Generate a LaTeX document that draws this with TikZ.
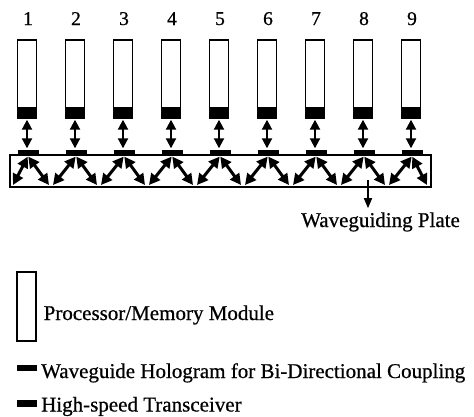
\documentclass[tikz,border=0pt]{standalone}
\usepackage{fontspec}
\setmainfont[FakeBold=0.6]{Liberation Serif}
\usetikzlibrary{arrows.meta}
\begin{document}
\begin{tikzpicture}[x=1pt,y=-1pt,
  module/.style={draw, line width=1.6pt, minimum width=19pt, minimum height=78pt, inner sep=0pt},
  trans/.style={fill=black, minimum width=20pt, minimum height=11pt, inner sep=0pt},
  holo/.style={fill=black, minimum width=21pt, minimum height=6pt, inner sep=0pt},
  biarrow/.style={line width=3pt, {Triangle[length=11pt,width=11pt]}-{Triangle[length=11pt,width=11pt]}},
  vbiarrow/.style={line width=2pt, {Triangle[length=10pt,width=10pt]}-{Triangle[length=10pt,width=10pt]}},
  num/.style={font=\fontsize{19.5}{22}\selectfont, inner sep=0pt, anchor=base},
  lab/.style={font=\fontsize{21}{24}\selectfont, inner sep=0pt, anchor=base west}]
\useasboundingbox (0,0) rectangle (474,416);
% waveguiding plate
\node[draw, line width=1.6pt, minimum width=421pt, minimum height=32pt, inner sep=0pt] (plate) at (220.5,171) {};
\foreach \i in {1,...,9}{
  \pgfmathsetmacro\cx{27+48*(\i-1)}
  \node[module] (m\i) at (\cx,79) {};
  \node[trans] (t\i) at (\cx,112.5) {};
  \node[holo] (h\i) at (\cx+1,153) {};
  \node[num] (n\i) at (\cx+1,25) {\i};
  \draw[vbiarrow, shorten <=1.5pt, shorten >=1.5pt] (t\i.south) -- (h\i.north -| t\i.south);
  \ifnum\i=1
    \coordinate (l\i) at (13,185);
  \else
    \coordinate (l\i) at (\cx-22,185);
  \fi
  \ifnum\i=9
    \coordinate (r\i) at (427,185);
  \else
    \coordinate (r\i) at (\cx+22,185);
  \fi
  \draw[biarrow, shorten <=0.5pt] (h\i.south) -- (l\i);
  \draw[biarrow, shorten <=0.5pt] (h\i.south) -- (r\i);
}
% label of plate
\node[lab] (wpl) at (301,227) {Waveguiding Plate};
\coordinate (wp) at (368,180);
\draw[line width=1.6pt, -{Triangle[length=10pt,width=8pt]}, shorten >=4pt] (wp) -- (wp |- wpl.north);
% legend
\node[module, minimum height=69pt] (lm) at (26.5,306.5) {};
\node[lab] (lmt) at (43.5,320) {Processor/Memory Module};
\node[holo, minimum width=20pt] (lh) at (27,368) {};
\node[lab] (lht) at (41,378) {Waveguide Hologram for Bi-Directional Coupling};
\node[trans, minimum height=7pt] (lt) at (27,403) {};
\node[lab] (ltt) at (41,411.5) {High-speed Transceiver};
\end{tikzpicture}
\end{document}
